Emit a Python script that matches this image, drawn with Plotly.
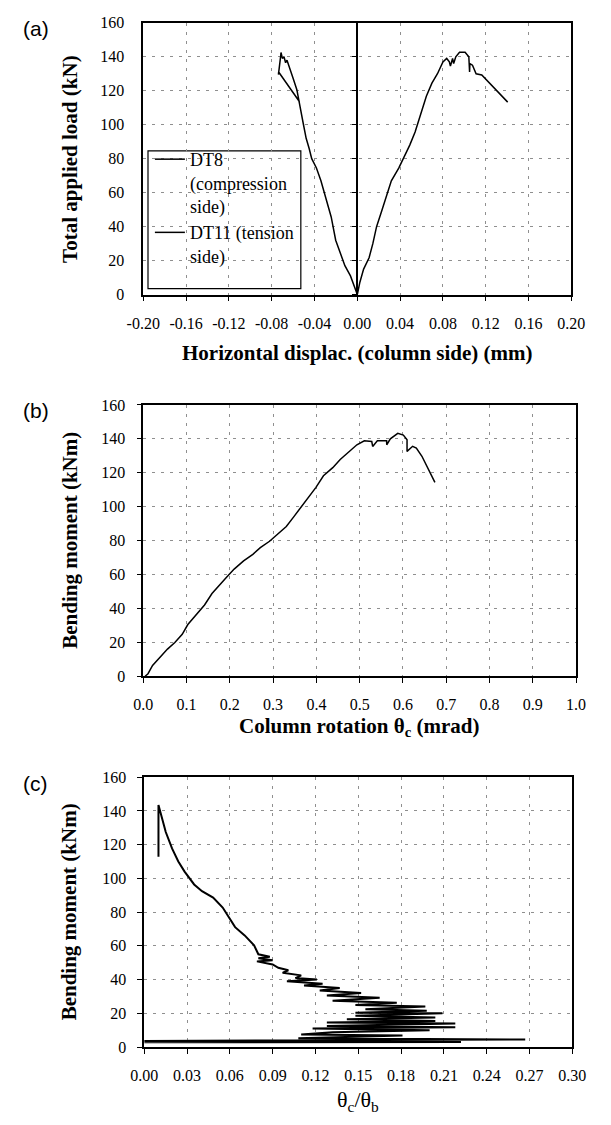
import plotly.graph_objects as go

# ---------------- data ----------------
# (a) load vs horizontal displacement
dt8_x = [0.0, -0.002, -0.0064, -0.0116, -0.0168, -0.0202, -0.0244, -0.027, -0.0306, -0.034,
         -0.0382, -0.0426, -0.045, -0.0478, -0.0506, -0.053, -0.054, -0.0565, -0.060, -0.0633,
         -0.0657, -0.067, -0.0685, -0.0700, -0.0713, -0.0715, -0.0726, -0.0737, -0.0735, -0.054]
dt8_y = [0, 3.5, 11, 17, 25.5, 32, 45.7, 51.5, 59, 67,
         74.5, 80, 86, 92, 101, 109, 114, 120.6, 127.3, 134,
         138, 136.5, 140, 139, 142.5, 141, 136, 129.5, 131, 113.5]

dt11_x = [0.0, 0.0024, 0.0059, 0.011, 0.0145, 0.018, 0.023, 0.0266, 0.0318, 0.0387,
          0.0439, 0.049, 0.054, 0.0593, 0.0645, 0.0697, 0.0749, 0.080, 0.0835, 0.086,
          0.087, 0.089, 0.090, 0.092, 0.0955, 0.1007, 0.1042, 0.1049, 0.1052, 0.1076,
          0.111, 0.1163, 0.1405]
dt11_y = [0, 7.3, 15, 21.7, 30, 40, 49.6, 57, 67, 74.5,
          81, 88, 95.7, 107, 116.8, 124.5, 130, 137, 139, 137,
          134.5, 139, 136, 140, 142.7, 142.7, 140, 131, 136, 135,
          130, 129.3, 113.3]

# (b) bending moment vs column rotation
rot_x = [0.0043, 0.011, 0.0215, 0.0386, 0.056, 0.073, 0.09, 0.103, 0.1245, 0.1416,
         0.1588, 0.1717, 0.1888, 0.21, 0.2318, 0.2532, 0.2704, 0.2918, 0.309, 0.3305,
         0.3476, 0.3648, 0.382, 0.399, 0.4163, 0.4378, 0.455, 0.4764, 0.4936, 0.5107,
         0.5279, 0.530, 0.5408, 0.5622, 0.5625, 0.5708, 0.588, 0.6009, 0.6094, 0.6094,
         0.6223, 0.6309, 0.6438, 0.6738]
rot_m = [0, 1.5, 6.4, 11.2, 16, 19.9, 24.7, 30.5, 37.2, 42,
         48.8, 52.6, 57.4, 63.2, 68, 71.9, 75.8, 79.6, 83.5, 88.3,
         94, 99.9, 105.6, 111.4, 118.2, 123, 127.8, 132.6, 136.5, 138.8,
         138.4, 135.5, 138.8, 138.8, 136.5, 140, 143.2, 142.2, 139.4, 132.6,
         135.6, 134.5, 129.7, 114.3]

# (c) bending moment vs rotation ratio
ratio_x = [0.000, 0.222, 0.000, 0.080, 0.267, 0.108, 0.181, 0.110, 0.132, 0.200,
           0.118, 0.218, 0.128, 0.218, 0.128, 0.204, 0.142, 0.204, 0.148, 0.209,
           0.148, 0.198, 0.155, 0.197, 0.148, 0.177, 0.132, 0.165, 0.128, 0.152,
           0.123, 0.137, 0.112, 0.125, 0.100, 0.121, 0.106, 0.110, 0.097, 0.101,
           0.094, 0.090, 0.079, 0.090, 0.080, 0.088, 0.080, 0.077, 0.0704, 0.0637,
           0.0593, 0.055, 0.0483, 0.0405, 0.035, 0.0283, 0.0239, 0.0195, 0.0151, 0.0117,
           0.0100, 0.0100]
ratio_m = [2.8, 3.0, 3.6, 3.9, 4.5, 5.2, 6.8, 7.5, 8.8, 10.0,
           11.0, 11.7, 12.5, 14.0, 14.6, 15.5, 16.5, 17.5, 18.5, 20.0,
           20.4, 21.5, 22.4, 24.0, 25.0, 26.3, 27.5, 29.2, 30.5, 32.0,
           33.5, 35.0, 36.5, 37.5, 39.0, 40.0, 40.9, 42.5, 44.0, 45.5,
           47.0, 49.0, 50.8, 51.5, 52.6, 53.5, 55.0, 60.3, 66.2, 71.1,
           76.9, 82.7, 88.6, 92.4, 96.4, 104.0, 110.0, 117.8, 127.5, 137.2,
           143.5, 112.9]

# tick labels
a_ticks = [-0.20, -0.16, -0.12, -0.08, -0.04, 0.00, 0.04, 0.08, 0.12, 0.16, 0.20]
a_ticktext = ["-0.20", "-0.16", "-0.12", "-0.08", "-0.04", "0.00", "0.04", "0.08", "0.12", "0.16", "0.20"]
b_ticks = [0.0, 0.1, 0.2, 0.3, 0.4, 0.5, 0.6, 0.7, 0.8, 0.9, 1.0]
c_ticks = [0.00, 0.03, 0.06, 0.09, 0.12, 0.15, 0.18, 0.21, 0.24, 0.27, 0.30]
y_ticks = [0, 20, 40, 60, 80, 100, 120, 140, 160]

# ---------------- layout geometry ----------------
W, H = 611, 1125
def px(v):
    return v / W
def py(v):
    return 1 - v / H

panels = {
    "a": dict(x=(133, 584), y=(15, 291)),
    "b": dict(x=(133, 589), y=(403, 678.5)),
    "c": dict(x=(134, 585), y=(781, 1055)),
}

SERIF = "'Liberation Serif', 'Times New Roman', Times, serif"
SANS = "'Liberation Sans', Arial, sans-serif"
GRID = "#8f8f8f"
LINE = dict(color="black", width=1.5)

fig = go.Figure()
fig.add_trace(go.Scatter(x=dt8_x, y=dt8_y, mode="lines", line=LINE,
                         name="DT8<br>(compression<br>side)", xaxis="x", yaxis="y"))
fig.add_trace(go.Scatter(x=dt11_x, y=dt11_y, mode="lines", line=LINE,
                         name="DT11 (tension<br>side)", xaxis="x", yaxis="y"))
# invisible trace to carry the tick axis drawn at x = 0 in panel (a)
fig.add_trace(go.Scatter(x=dt11_x, y=dt11_y, mode="lines", line=dict(width=0),
                         opacity=0, showlegend=False, hoverinfo="skip",
                         xaxis="x", yaxis="y4"))
fig.add_trace(go.Scatter(x=rot_x, y=rot_m, mode="lines", line=LINE,
                         showlegend=False, xaxis="x2", yaxis="y2"))
fig.add_trace(go.Scatter(x=ratio_x, y=ratio_m, mode="lines",
                         line=dict(color="black", width=2),
                         showlegend=False, xaxis="x3", yaxis="y3"))

tickfont = dict(family=SERIF, size=16, color="black")

def xax(dom, anchor, rng, tickvals, ticktext):
    return dict(domain=[px(dom[0]), px(dom[1])], anchor=anchor, range=rng,
                tickvals=tickvals, ticktext=ticktext, ticks="outside", ticklen=5,
                tickwidth=1.2, tickcolor="black", showline=True, linecolor="black",
                linewidth=1.5, mirror=True, showgrid=True, gridcolor=GRID,
                griddash="3px,6px", gridwidth=1, zeroline=False, tickfont=tickfont,
                ticklabelstandoff=8, fixedrange=True)

def yax(dom, anchor, ticks="outside"):
    return dict(domain=[py(dom[1]), py(dom[0])], anchor=anchor, range=[0, 160],
                tickvals=y_ticks, ticks=ticks, ticklen=5 if ticks else 0, tickwidth=1.2,
                tickcolor="black", showline=True, linecolor="black", linewidth=1.5,
                mirror=True, showgrid=True, gridcolor=GRID, griddash="3px,6px",
                gridwidth=1, zeroline=False, tickfont=tickfont,
                ticklabelstandoff=8 if ticks else 14, fixedrange=True)

pa, pb, pc = panels["a"], panels["b"], panels["c"]
xa = xax(pa["x"], "y", [-0.2, 0.2], a_ticks, a_ticktext)
xa.update(zeroline=True, zerolinecolor="black", zerolinewidth=1.5)
xb = xax(pb["x"], "y2", [0, 1.0], b_ticks, [f"{v:.1f}" for v in b_ticks])
xc = xax(pc["x"], "y3", [0, 0.3], c_ticks, [f"{v:.2f}" for v in c_ticks])

ya = yax(pa["y"], "x", ticks="")
yb = yax(pb["y"], "x2")
yc = yax(pc["y"], "x3")

zero_pos = (xa["domain"][0] + xa["domain"][1]) / 2
y4 = dict(overlaying="y", anchor="free", position=zero_pos, side="left",
          range=[0, 160], tickvals=y_ticks, ticks="outside", ticklen=5, tickwidth=1.2,
          tickcolor="black", showticklabels=False, showline=False, showgrid=False,
          zeroline=False, fixedrange=True)

title_font = dict(family=SERIF, size=21, color="black")
annotations = []
for key, label, ytitle in [("a", "(a)", "Total applied load (kN)"),
                           ("b", "(b)", "Bending moment (kNm)"),
                           ("c", "(c)", "Bending moment (kNm)")]:
    p = panels[key]
    yc_mid = (p["y"][0] + p["y"][1]) / 2
    annotations.append(dict(text=f"<b>{ytitle}</b>", x=px(55), y=py(yc_mid), xref="paper",
                            yref="paper", textangle=-90, showarrow=False, font=title_font,
                            xanchor="center", yanchor="middle"))
    annotations.append(dict(text=label, x=px(4), y=py(p["y"][0] + 6), xref="paper",
                            yref="paper", showarrow=False,
                            font=dict(family=SANS, size=21, color="black"),
                            xanchor="left", yanchor="middle"))

annotations.append(dict(text="<b>Horizontal displac. (column side) (mm)</b>",
                        x=px((pa["x"][0] + pa["x"][1]) / 2), y=py(350), xref="paper",
                        yref="paper", showarrow=False, font=title_font,
                        xanchor="center", yanchor="middle"))
annotations.append(dict(text="<b>Column rotation θ<sub>c</sub> (mrad)</b>",
                        x=px((pb["x"][0] + pb["x"][1]) / 2), y=py(730), xref="paper",
                        yref="paper", showarrow=False, font=title_font,
                        xanchor="center", yanchor="middle"))
annotations.append(dict(text="θ<sub>c</sub>/θ<sub>b</sub>",
                        x=px((pc["x"][0] + pc["x"][1]) / 2), y=py(1110), xref="paper",
                        yref="paper", showarrow=False,
                        font=dict(family=SERIF, size=22, color="black"),
                        xanchor="center", yanchor="middle"))

shapes = [dict(type="rect", xref="paper", yref="paper", x0=px(138), x1=px(299),
               y0=py(285), y1=py(145), line=dict(color="black", width=1.2),
               fillcolor="white", layer="below")]

fig.update_layout(
    width=W, height=H, autosize=False,
    margin=dict(l=0, r=0, t=0, b=0),
    paper_bgcolor="white", plot_bgcolor="rgba(0,0,0,0)",
    xaxis=xa, yaxis=ya, xaxis2=xb, yaxis2=yb, xaxis3=xc, yaxis3=yc, yaxis4=y4,
    annotations=annotations, shapes=shapes,
    showlegend=True,
    legend=dict(x=px(140), y=py(135), xanchor="left", yanchor="top",
                bgcolor="rgba(0,0,0,0)", borderwidth=0,
                font=dict(family=SERIF, size=18, color="black"),
                valign="top", tracegroupgap=0, itemwidth=30),
    font=dict(family=SERIF, color="black"),
)

fig.write_html("out.html")
